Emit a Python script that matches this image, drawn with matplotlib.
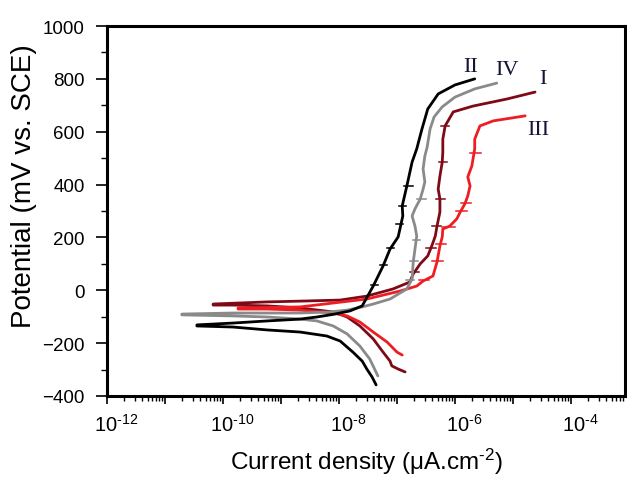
import numpy as np
import matplotlib
matplotlib.use("Agg")
import matplotlib.pyplot as plt
from matplotlib.ticker import LogLocator, FuncFormatter, MultipleLocator, NullFormatter
from matplotlib.transforms import ScaledTranslation

plt.rcParams['font.family'] = ['Liberation Sans', 'DejaVu Sans']
plt.rcParams['mathtext.fontset'] = 'custom'
plt.rcParams['mathtext.rm'] = 'Liberation Sans'
plt.rcParams['mathtext.it'] = 'Liberation Sans:italic'
plt.rcParams['mathtext.default'] = 'regular'

# ---- data: log10(current density) and potential (mV vs SCE) ----
# Curve II (black)
II_logi = [-7.36, -7.43, -7.52, -7.60, -7.76, -7.98, -8.21, -8.67, -9.24, -9.83, -10.45,
           -10.45, -9.83, -9.24, -8.67, -8.38, -8.07, -7.81, -7.60, -7.41, -7.24, -7.12,
           -6.98, -6.90, -6.91, -6.83, -6.74, -6.66, -6.57, -6.47, -6.29, -6.00, -5.66]
II_E = [-358, -328, -298, -268, -234, -192, -173, -158, -150, -139, -135,
        -131, -124, -116, -109, -101, -90, -78, -59, 16, 92, 156,
        202, 281, 319, 395, 485, 535, 610, 686, 743, 777, 800]

# Curve IV (grey)
IV_logi = [-7.33, -7.47, -7.64, -7.86, -8.10, -8.38, -8.67, -9.24, -9.83, -10.71,
           -10.71, -9.83, -8.67, -8.16, -7.86, -7.60, -7.41, -7.12, -6.83, -6.74, -6.72,
           -6.69, -6.66, -6.69, -6.74, -6.69, -6.60, -6.55, -6.52, -6.55, -6.52, -6.48,
           -6.43, -6.36, -6.22, -6.00, -5.66, -5.28]
IV_E = [-324, -260, -211, -165, -135, -116, -109, -101, -97, -93,
        -90, -86, -86, -82, -75, -63, -52, -33, 5, 43, 107,
        156, 205, 243, 281, 308, 345, 383, 410, 459, 508, 542,
        610, 656, 694, 731, 762, 784]

# Curve I (dark red)
I_logi = [-6.86, -6.98, -7.09, -7.12, -7.24, -7.41, -7.64, -7.86, -8.10, -8.67, -9.24, -9.83, -10.17,
          -10.17, -9.24, -8.67, -7.98, -7.52, -7.07, -6.78, -6.72, -6.60, -6.47, -6.40, -6.34,
          -6.31, -6.26, -6.26, -6.29, -6.26, -6.22, -6.21, -6.21, -6.17, -6.03, -5.69, -5.10, -4.62]
I_E = [-309, -298, -286, -268, -234, -184, -135, -101, -82, -67, -59, -56, -56,
       -52, -44, -41, -37, -22, 5, 31, 62, 100, 130, 168, 205,
       243, 296, 345, 383, 432, 485, 523, 572, 622, 675, 697, 724, 750]

# Curve III (red)
III_logi = [-6.91, -7.00, -7.17, -7.41, -7.64, -7.86, -8.10, -8.67, -9.24, -9.74,
            -9.74, -8.67, -7.52, -6.95, -6.66, -6.55, -6.38, -6.31, -6.26, -6.22, -6.21,
            -6.09, -5.97, -5.91, -5.83, -5.78, -5.74, -5.78, -5.71, -5.66, -5.66, -5.57,
            -5.34, -4.79]
III_E = [-245, -234, -196, -158, -120, -97, -86, -75, -71, -71,
         -67, -63, -33, -3, 16, 35, 54, 107, 168, 202, 232,
         243, 270, 296, 327, 357, 395, 429, 470, 535, 572, 622,
         641, 660]

# short horizontal noise spikes: (E, log10 i left, log10 i right)
II_spikes = [(395, -6.88, -6.72), (320, -6.96, -6.85), (250, -7.02, -6.90), (160, -7.18, -7.05),
             (95, -7.30, -7.18), (20, -7.45, -7.33)]
IV_spikes = [(345, -6.66, -6.50), (190, -6.72, -6.60), (110, -6.78, -6.64), (40, -6.85, -6.70)]
I_spikes = [(622, -6.24, -6.10), (485, -6.28, -6.14), (345, -6.32, -6.18), (245, -6.40, -6.25),
            (160, -6.50, -6.33), (70, -6.78, -6.62)]
III_spikes = [(520, -5.74, -5.56), (330, -5.90, -5.72), (300, -5.98, -5.80), (240, -6.22, -6.00),
              (175, -6.33, -6.15), (110, -6.40, -6.20), (40, -6.62, -6.45)]

curves = [
    ("I", I_logi, I_E, I_spikes, "#7d0a16"),
    ("III", III_logi, III_E, III_spikes, "#ee1d23"),
    ("IV", IV_logi, IV_E, IV_spikes, "#8a8a8a"),
    ("II", II_logi, II_E, II_spikes, "#000000"),
]

labels = ["II", "IV", "I", "III"]
label_logi = [-5.73, -5.10, -4.48, -4.57]
label_E = [848, 836, 800, 610]

# ---- figure ----
fig = plt.figure(figsize=(6.27, 4.81), dpi=100)
ax = fig.add_axes([107 / 627, 1 - 397 / 481, (625 - 107) / 627, (397 - 27) / 481])

for name, li, e, sp, col in curves:
    ax.plot(10 ** np.array(li), e, color=col, lw=2.0, solid_joinstyle='round', solid_capstyle='round')
    for (ee, a, b) in sp:
        ax.plot([10 ** a, 10 ** b], [ee, ee], color=col, lw=1.1)

for t, li, e in zip(labels, label_logi, label_E):
    ax.text(10 ** li, e, t, fontsize=16, family=['Liberation Serif'], color='#141438',
            ha='center', va='center')

ax.set_xscale('log')
ax.set_xlim(1e-12, 10 ** (-12 + (625 - 107) / 58))
ax.set_ylim(-400, 1000)

ax.xaxis.set_major_locator(LogLocator(base=10, numticks=30))
ax.xaxis.set_minor_locator(LogLocator(base=10, subs=np.arange(2, 10), numticks=30))
ax.xaxis.set_minor_formatter(NullFormatter())


def fmt(v, pos):
    ex = int(round(np.log10(v)))
    if ex % 2 == 0:
        return r"10$^{\text{%d}}$" % ex
    return ""


ax.xaxis.set_major_formatter(FuncFormatter(fmt))
ax.yaxis.set_major_locator(MultipleLocator(200))
ax.yaxis.set_minor_locator(MultipleLocator(100))

ax.tick_params(axis='both', which='major', direction='out', width=1.2, color='black')
ax.tick_params(axis='y', which='major', length=8, labelsize=13.5, pad=8)
ax.tick_params(axis='y', which='minor', length=4.5, width=1.0)
ax.tick_params(axis='x', which='major', length=6, labelsize=14.5, pad=6)
ax.tick_params(axis='x', which='minor', length=3.5, width=1.0)
for s in ax.spines.values():
    s.set_linewidth(2.2)

ax.set_xlabel(r"Current density ($\mu$A.cm$^{\text{-2}}$)", fontsize=17.5, labelpad=8)
ax.set_ylabel("Potential (mV vs. SCE)", fontsize=20)
ax.yaxis.set_label_coords(-0.135, 0.57)

fig.canvas.draw()
shift = ScaledTranslation(9 / 100, 0, fig.dpi_scale_trans)
for tk in ax.xaxis.get_major_ticks():
    tk.label1.set_transform(tk.label1.get_transform() + shift)

fig.savefig("out.png", dpi=100)
